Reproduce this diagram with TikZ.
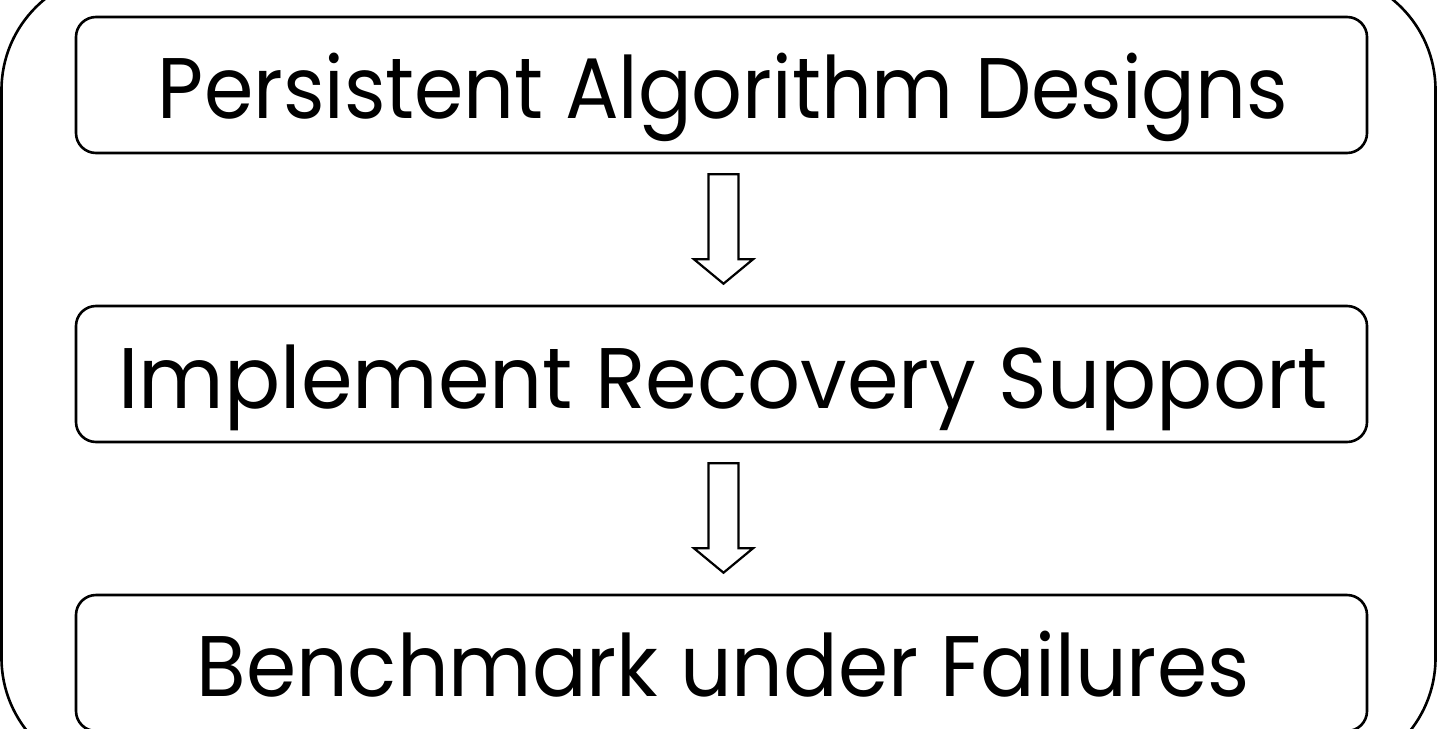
\documentclass[tikz,border=0pt]{standalone}
\usepackage{fontspec}
\setmainfont{Poppins}
\usetikzlibrary{calc}
\begin{document}
\begin{tikzpicture}[x=1pt,y=-1pt,
  stepbox/.style={draw, line width=2.6pt, rounded corners=20pt, minimum width=1291pt, minimum height=136pt, inner sep=0pt},
  lbl/.style={font=\fontsize{86}{96}\selectfont, anchor=base, inner sep=0pt},
  blockarrow/.style={draw, line width=2.2pt, line join=miter}]
\useasboundingbox (0,0) rectangle (1439,728);
\clip (0,0) rectangle (1439,728);
\draw[line width=2.6pt, rounded corners=117pt] (1.5,-27) rectangle (1435.5,775);
\node[stepbox] (b1) at (721.5,85) {};
\node[stepbox] (b2) at (721.5,374) {};
\node[stepbox] (b3) at (721.5,663) {};
\node[lbl] (t1) at (723,118) {\scalebox{0.925}[1]{Persistent Algorithm Designs}};
\node[lbl] (t2) at (723,408) {\scalebox{0.966}[1]{Implement Recovery Support}};
\node[lbl] (t3) at (723,696) {\scalebox{0.94}[1]{Benchmark under Failures}};
\foreach \a/\b in {b1/b2, b2/b3}{
  \draw[blockarrow] ($(\a.south)+(-13,20)$) -- ($(\a.south)+(17,20)$) -- ($(\a.south)+(17,105)$) -- ($(\a.south)+(31.5,105)$) -- ($(\b.north)+(2,-21)$) -- ($(\a.south)+(-27.5,105)$) -- ($(\a.south)+(-13,105)$) -- cycle;
}
\end{tikzpicture}
\end{document}
